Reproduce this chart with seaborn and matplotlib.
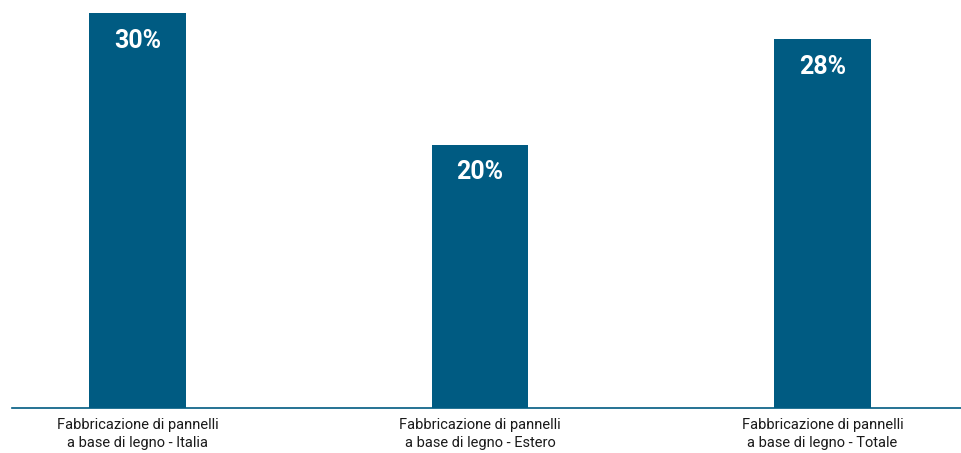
import pandas as pd
import matplotlib.pyplot as plt
import seaborn as sns

# Data
categories = [
    "Fabbricazione di pannelli\na base di legno - Italia",
    "Fabbricazione di pannelli\na base di legno - Estero",
    "Fabbricazione di pannelli\na base di legno - Totale",
]
values = [30, 20, 28]
labels = ["30%", "20%", "28%"]

BAR_COLOR = "#005b82"


def generate_plot():
    df = pd.DataFrame({"categoria": categories, "valore": values})

    sns.set_theme(style="white")
    plt.rcParams["font.family"] = ["Roboto", "DejaVu Sans"]

    fig = plt.figure(figsize=(9.62, 4.53), dpi=100)
    ax = fig.add_axes([12 / 962, 1 - 408 / 453, 950 / 962, (408 - 13) / 453])

    sns.barplot(data=df, x="categoria", y="valore", color=BAR_COLOR,
                width=0.283, saturation=1, linewidth=0, ax=ax)

    ax.set_ylim(0, 30)
    ax.set_xlim(-0.366, 2.407)

    for i, (v, lab) in enumerate(zip(values, labels)):
        ax.annotate(lab, xy=(i, v), xytext=(0, -20), textcoords="offset points",
                    ha="center", va="center", color="white",
                    fontsize=18, fontweight="bold")

    for side in ["top", "right", "left"]:
        ax.spines[side].set_visible(False)
    ax.spines["bottom"].set_color(BAR_COLOR)
    ax.spines["bottom"].set_linewidth(1.2)

    ax.set_yticks([])
    ax.set_xlabel("")
    ax.set_ylabel("")
    ax.tick_params(axis="x", length=0, pad=7, labelsize=10.5, labelcolor="#1a1a1a")
    for t in ax.get_xticklabels():
        t.set_linespacing(1.35)

    fig.savefig("out.png", dpi=100)
    plt.close(fig)


if __name__ == "__main__":
    generate_plot()
